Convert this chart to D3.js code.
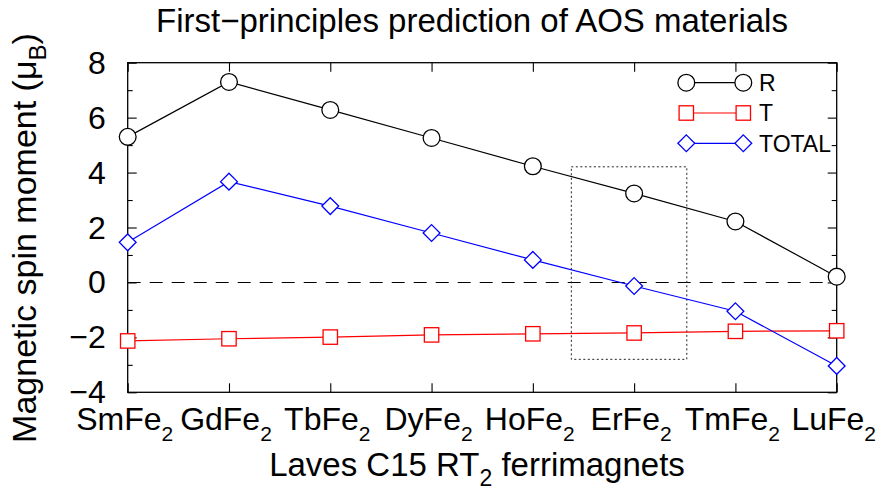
<!DOCTYPE html>
<html>
<head>
<meta charset="utf-8">
<script src="https://cdn.jsdelivr.net/npm/d3@7"></script>
<style>
  html, body { margin: 0; padding: 0; background: #fff; }
  svg { display: block; }
  text { font-family: "Liberation Sans", Arial, Helvetica, sans-serif; fill: #000; }
</style>
</head>
<body>
<svg id="chart" width="881" height="491"></svg>
<script>
// ---- data ----
const categories = ["SmFe2", "GdFe2", "TbFe2", "DyFe2", "HoFe2", "ErFe2", "TmFe2", "LuFe2"];
const seriesNames = ["R", "T", "TOTAL"];
const valuesR     = [5.30, 7.30, 6.28, 5.26, 4.23, 3.24, 2.22, 0.21];
const valuesT     = [-2.13, -2.05, -1.99, -1.91, -1.87, -1.84, -1.78, -1.76];
const valuesTotal = [1.46, 3.67, 2.78, 1.80, 0.82, -0.13, -1.05, -3.04];
const yTicks = [-4, -2, 0, 2, 4, 6, 8];
const yMinorTicks = [-3, -1, 1, 3, 5, 7];
const highlightX = [4.38, 5.52];   // category-index span of dotted box
const highlightY = [-2.80, 4.21];  // value span of dotted box
const titleText = "First\u2212principles prediction of AOS materials";
const xLabelText = ["Laves C15 RT", "2", " ferrimagnets"];
const yLabelText = ["Magnetic spin moment (\u03bc", "B", ")"];

// ---- layout ----
const W = 881, H = 491;
const M = { left: 127.7, right: 836.7, top: 62.7, bottom: 392.3 };
const colors = { R: "#000000", T: "#ff0000", TOTAL: "#0000ff" };
const shapes = { R: "circle", T: "square", TOTAL: "diamond" };

const svg = d3.select("#chart");
const x = d3.scaleLinear().domain([0, categories.length - 1]).range([M.left, M.right]);
const y = d3.scaleLinear().domain([-4, 8]).range([M.bottom, M.top]);

const series = [
  { name: "R", values: valuesR },
  { name: "T", values: valuesT },
  { name: "TOTAL", values: valuesTotal }
];

function drawMarker(g, shape, cx, cy, color) {
  if (shape === "circle") {
    g.append("circle").attr("cx", cx).attr("cy", cy).attr("r", 8.4)
      .attr("fill", "#fff").attr("stroke", color).attr("stroke-width", 1.3);
  } else if (shape === "square") {
    const s = 7.2;
    g.append("rect").attr("x", cx - s).attr("y", cy - s).attr("width", 2 * s).attr("height", 2 * s)
      .attr("fill", "#fff").attr("stroke", color).attr("stroke-width", 1.3);
  } else {
    const d = 8.4;
    g.append("path").attr("d", `M${cx},${cy - d}L${cx + d},${cy}L${cx},${cy + d}L${cx - d},${cy}Z`)
      .attr("fill", "#fff").attr("stroke", color).attr("stroke-width", 1.3);
  }
}

// zero line
svg.append("line")
  .attr("x1", M.left).attr("x2", M.right).attr("y1", y(0)).attr("y2", y(0))
  .attr("stroke", "#000").attr("stroke-width", 1.1).attr("stroke-dasharray", "13,9");

// dotted box
svg.append("rect")
  .attr("x", x(highlightX[0])).attr("y", y(highlightY[1]))
  .attr("width", x(highlightX[1]) - x(highlightX[0]))
  .attr("height", y(highlightY[0]) - y(highlightY[1]))
  .attr("fill", "none").attr("stroke", "#222").attr("stroke-width", 1)
  .attr("stroke-dasharray", "2,2.5");

// axes (frame + inside ticks)
const axisG = svg.append("g");
const axL = d3.axisLeft(y).tickValues(yTicks).tickSizeInner(-9).tickSizeOuter(0).tickFormat(d => d < 0 ? "\u2212" + Math.abs(d) : d);
const gL = axisG.append("g").attr("transform", `translate(${M.left},0)`).call(axL);
gL.selectAll("text").attr("x", -22).attr("dy", "0.33em").style("font-size", "32px").style("font-family", '"Liberation Sans", Arial, sans-serif');
const axLm = d3.axisLeft(y).tickValues(yMinorTicks).tickSizeInner(-5).tickSizeOuter(0).tickFormat("");
axisG.append("g").attr("transform", `translate(${M.left},0)`).call(axLm);
const axR = d3.axisRight(y).tickValues(yTicks).tickSizeInner(-9).tickSizeOuter(0).tickFormat("");
axisG.append("g").attr("transform", `translate(${M.right},0)`).call(axR);
const axRm = d3.axisRight(y).tickValues(yMinorTicks).tickSizeInner(-5).tickSizeOuter(0).tickFormat("");
axisG.append("g").attr("transform", `translate(${M.right},0)`).call(axRm);
const idx = d3.range(categories.length);
const axB = d3.axisBottom(x).tickValues(idx).tickSizeInner(-9).tickSizeOuter(0).tickFormat("");
axisG.append("g").attr("transform", `translate(0,${M.bottom})`).call(axB);
const axT = d3.axisTop(x).tickValues(idx).tickSizeInner(-9).tickSizeOuter(0).tickFormat("");
axisG.append("g").attr("transform", `translate(0,${M.top})`).call(axT);
axisG.selectAll(".domain").remove();
axisG.selectAll(".tick line").attr("stroke", "#000").attr("stroke-width", 1.1);
svg.append("rect").attr("x", M.left).attr("y", M.top)
  .attr("width", M.right - M.left).attr("height", M.bottom - M.top)
  .attr("fill", "none").attr("stroke", "#000").attr("stroke-width", 1.3);

// x tick labels with subscripts
const xl = svg.append("g");
categories.forEach((c, i) => {
  const m = c.match(/^(.*?)(\d+)$/);
  const t = xl.append("text").attr("x", x(i) - 3).attr("y", 430)
    .attr("text-anchor", "middle").style("font-size", "32px");
  t.append("tspan").text(m[1]);
  t.append("tspan").attr("dy", 11).style("font-size", "21px").text(m[2]);
});

// series lines + markers
const line = d3.line().x((d, i) => x(i)).y(d => y(d));
series.forEach(s => {
  svg.append("path").datum(s.values).attr("d", line)
    .attr("fill", "none").attr("stroke", colors[s.name]).attr("stroke-width", 1.2);
});
series.forEach(s => {
  const g = svg.append("g");
  s.values.forEach((v, i) => drawMarker(g, shapes[s.name], x(i), y(v), colors[s.name]));
});

// legend
const legend = svg.append("g");
seriesNames.forEach((n, i) => {
  const ly = 82.7 + i * 30.3;
  legend.append("line").attr("x1", 686.3).attr("x2", 743.3).attr("y1", ly).attr("y2", ly)
    .attr("stroke", colors[n]).attr("stroke-width", 1.2);
  drawMarker(legend, shapes[n], 686.3, ly, colors[n]);
  drawMarker(legend, shapes[n], 743.3, ly, colors[n]);
  legend.append("text").attr("x", 759).attr("y", ly).attr("dy", "0.36em")
    .style("font-size", "23px").text(n);
});

// title
svg.append("text").attr("x", 472).attr("y", 31.7).attr("text-anchor", "middle")
  .style("font-size", "33px").text(titleText);

// x axis label
const xt = svg.append("text").attr("x", 477).attr("y", 476).attr("text-anchor", "middle").style("font-size", "33px");
xt.append("tspan").text(xLabelText[0]);
xt.append("tspan").attr("dy", 10).style("font-size", "23px").text(xLabelText[1]);
xt.append("tspan").attr("dy", -10).text(xLabelText[2]);

// y axis label
const yt = svg.append("text").attr("transform", `translate(36,238) rotate(-90)`)
  .attr("text-anchor", "middle").style("font-size", "34px");
yt.append("tspan").text(yLabelText[0]);
yt.append("tspan").attr("dy", 10).style("font-size", "24px").text(yLabelText[1]);
yt.append("tspan").attr("dy", -10).text(yLabelText[2]);
</script>
</body>
</html>
